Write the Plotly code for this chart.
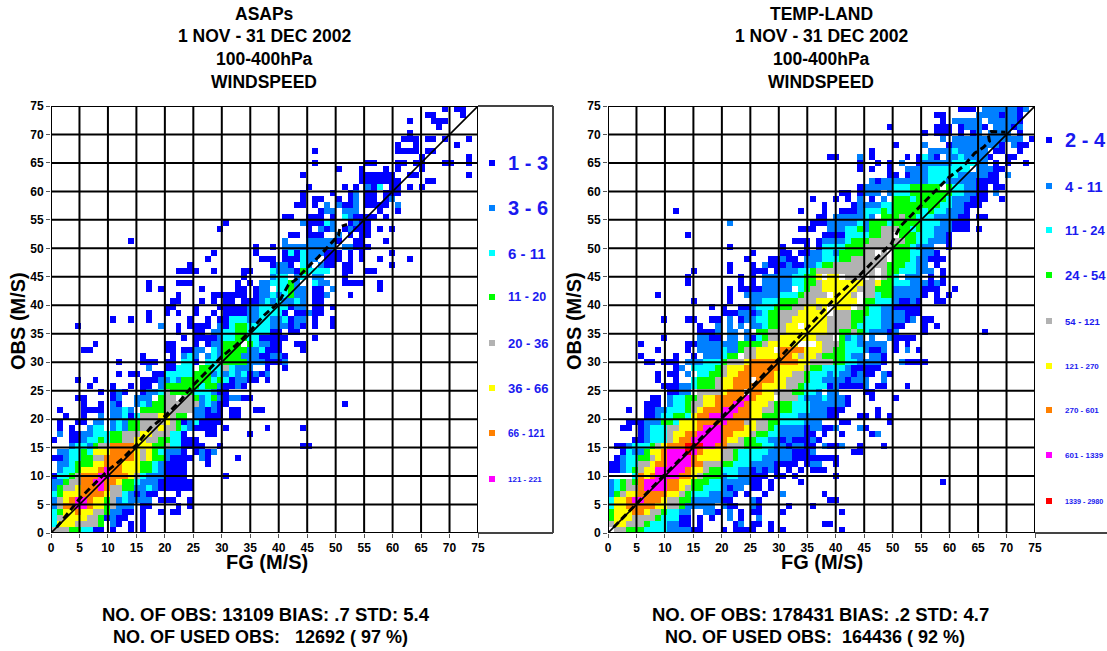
import plotly.graph_objects as go

W, H = 1107, 651
FONT = "Liberation Sans"
BINS_X, BINS_Y = 72, 71
AXIS_MAX = 75
TICKS = list(range(0, 76, 5))

# colour class codes: 1..9, one row string per histogram row, top row first. "col:codes"
ASAP_ROWS = [
"66:1 68:11","63:11 69:1","60:1 64:111","65:1","60:1","59:111 63:11 66:1 70:1","58:1 61:1 68:1",
"44:1 58:1 59:111 63:11","62:1 70:1","44:1 53:11 58:11 61:11 66:11 70:1","48:1 52:1 56:1 58:1 62:1",
"42:1 52:1 53:111 56:11 60:11 70:1","52:1 53:111 56:111 63:11","43:1 49:1 51:1 53:2 54:1 55:3 57:11 60:1 62:1",
"42:1 47:1 50:1 51:2 53:11 56:11 58:1","42:1 44:11 48:1 50:1 51:2 53:11 56:1 57:2",
"41:11 44:1 46:2 48:2 49:11 51:2 53:111 56:1 58:2","45:1 46:22 49:2 50:22 55:1 58:1",
"39:1 40:1 43:111 47:1 49:3 50:2 51:1 52:111 56:1","29:1 42:2 43:111 46:3 47:2 50:1 51:2 52:11",
"28:1 43:1 45:2 46:1 47:2 49:1 50:2 51:1 52:1 53:1 55:1 57:1","40:11 43:111 48:2 50:1 52:1 53:1",
"13:1 39:2 43:222 46:22 48:1 51:1 52:1 56:1","34:1 37:1 39:222222222 49:22 51:111",
"27:1 34:1 39:1 40:3 41:1 42:3 43:222 46:11 48:1 50:1 52:1 57:1",
"26:1 35:11 37:1 39:1 40:11 42:3 43:22 46:11 48:1 50:1 52:1 55:1 60:1",
"23:1 37:1 38:22 40:1 42:3 43:2 45:2 46:11 49:11 57:1",
"21:1111 27:1 32:11 37:3 38:222 41:1 42:4 43:3333 49:11 53:11",
"32:1 37:2 38:33 41:2 42:3 44:22 49:1",
"16:1 21:111 31:1 33:1 35:22 37:3 38:33 40:4 41:2 44:3 45:22 49:111 52:1 55:1",
"16:1 18:1 25:1 31:11 34:1 35:2 36:2 38:33 40:4 41:22 44:11 47:2 55:1",
"21:1 27:111 30:111 34:11 35:2 36:2 37:3 38:2 39:3 40:4 41:22 44:11 46:2 50:1",
"20:11 25:1 27:1 29:11 32:11 34:11 35:2 36:3 37:2 38:3 39:2 40:2 41:3 42:2 44:11",
"19:11 24:1 28:1 29:1111 33:2 34:2 35:33 37:33 39:3 40:1 41:22 44:11 47:1",
"16:1 19:1 21:1 24:1 27:1 29:1111 33:22 35:33 37:3 38:3 39:1 41:11 43:2 44:11",
"10:1 13:1 16:1 23:1 26:1 28:1 29:1 30:3333 33:22 35:33 37:22 39:3 40:1 41:22 44:1 47:1",
"4:1 18:2 21:1 23:111 26:1 28:2 29:1 30:3 31:4 32:4 33:3 34:3 35:33 37:222 40:1 41:2 42:1 44:1 47:1",
"21:1 24:11 27:22 29:3 30:3 31:44 33:3 34:3 35:33 37:11 40:11",
"22:1 24:111 27:1 28:2 29:33 31:44 33:33 35:11 37:111 44:1",
"7:1 19:11 24:1 26:1 27:22 29:444 33:4 34:3 35:22 37:11 41:11",
"5:1 6:1 19:11 22:11 24:22 27:3 28:2 29:444 32:4 33:22 35:3 36:1 37:11 42:1",
"15:1 20:1 22:2 23:3 24:2 26:2 27:3 28:2 29:444 32:2 33:22 35:11 37:22 39:1",
"11:1 15:111 19:11 22:33 24:1 26:33 28:5 29:4444 33:22 35:2 36:1 37:11 39:2",
"16:2 19:11 21:33 23:3 25:444 27:33 29:5 30:3 31:2 32:2 33:2 36:1 39:1",
"11:1 13:1 14:1 17:11 19:33333 24:444 27:2 28:3 29:2 30:3 31:2 32:3 33:1 34:2 35:1 36:2",
"4:1 7:1 15:111 18:2 19:2 20:3 21:2 22:44 24:444 27:3 28:4 29:3 30:1 31:22 33:1 34:1 36:1",
"6:1 10:1 13:1 15:11 18:2 19:4444 23:4 24:4 25:3 26:44 28:2 29:1 30:1 31:2 32:1",
"8:1 10:1 11:2 12:1 15:1 16:2 17:2 18:3 19:5 20:4 21:4 22:4 23:4 24:3 25:3 26:3 27:2 28:1 29:1",
"4:11 10:1 11:2 14:222 18:44 19:55 22:5 23:5 24:4 25:2 26:3 27:4 28:2 29:1 30:22 32:1 33:1",
"5:1 8:1 10:2 11:1 14:2 15:3 16:2 17:4 18:4 19:55 21:5 22:5 23:5 24:5 25:2 26:3 27:2 28:1 29:1 49:1",
"1:1 5:1111 10:2 11:2 12:3 13:2 15:44 17:44 19:55 21:555 24:2 25:2 26:1 27:2 28:1 30:11 34:11 35:1",
"2:1 5:1 8:2 10:2 11:2 12:3 13:1 14:3 15:5 16:5 17:5 18:6 19:6 20:5 21:4 22:4 24:2 25:2 26:1 27:1 28:1 30:11",
"1:1 4:11 7:2 8:2 10:2 11:3 12:2 13:4 14:4 15:5 16:5 17:5 18:5 19:6 20:5 21:4 22:1 23:2 24:3 25:1 26:1 27:1 28:1",
"1:1 3:1 6:2 7:33 10:2 11:3 12:2 13:4 14:4 15:5 16:5 17:5 18:6 19:5 20:5 21:4 22:3 23:2 24:1 25:1 26:1 27:1 29:1 36:1 42:1",
"1:2 3:11 5:2 6:2 7:33 9:3 10:4 11:4 12:5 13:5 14:5 15:6 16:6 17:5 18:5 19:5 20:3 21:3 22:1 26:11 33:1",
"0:1 3:11 5:2 6:3 7:3 8:4 9:3 10:4 11:4 12:5 13:5 14:6 15:6 16:5 17:5 18:4 19:4 20:3 21:3 22:111 24:1",
"3:2 4:3 5:3 6:2 7:4 8:5 9:5 10:7 11:7 12:7 13:7 14:6 15:6 16:6 17:4 18:4 19:5 20:3 21:3 22:1 23:1 24:1 25:1 28:1 42:11",
"1:2 2:2 3:3 4:3 5:4 6:3 7:6 8:6 9:6 10:7 11:7 12:7 13:7 14:6 15:5 16:6 17:4 18:3 19:2 20:2 21:2 22:1 24:1 25:2 26:1 27:2",
"0:11 2:2 3:3 4:3 5:4 6:4 7:5 8:5 9:7 10:7 11:7 12:7 13:7 14:6 15:5 16:6 17:4 18:4 19:2 20:1 21:1 22:1 23:1 25:2 26:1 31:1",
"1:22 3:3 4:4 5:4 6:4 7:6 8:6 9:7 10:7 11:7 12:6 13:6 14:6 15:4 16:4 17:3 18:2 19:1 20:1 21:1 22:1 26:1",
"1:2 2:3 3:3 4:4 5:6 6:6 7:6 8:7 9:8 10:7 11:7 12:6 13:6 14:6 15:4 16:4 17:3 18:2 19:1 20:111",
"0:1 1:3 2:3 3:4 4:5 5:7 6:7 7:7 8:8 9:8 10:7 11:7 12:7 13:6 14:5 15:3 16:2 17:2 18:2 19:1 20:111 29:1",
"0:22 2:4 3:5 4:5 5:7 6:7 7:8 8:8 9:7 10:7 11:6 12:4 13:4 14:3 15:2 16:2 17:2 18:1 19:1 20:1111",
"0:2 1:4 2:5 3:5 4:6 5:7 6:7 7:7 8:8 9:7 10:5 11:5 12:4 13:4 14:2 15:2 16:3 17:2 18:1 19:1 20:1111",
"0:3 1:4 2:6 3:6 4:6 5:7 6:7 7:7 8:7 9:6 10:5 11:5 12:3 13:2 14:1 15:2 16:1 17:1 21:1",
"0:2 1:5 2:6 3:7 4:8 5:8 6:7 7:6 8:6 9:4 10:5 11:2 12:3 13:2 14:2 15:2 16:2 18:1 19:1 20:1 23:1",
"0:2 1:5 2:7 3:7 4:8 5:8 6:7 7:6 8:6 9:4 10:5 11:2 12:2 13:2 15:1 16:1 21:1 23:1",
"0:3 1:4 2:6 3:6 4:7 5:6 6:6 7:5 8:5 9:4 10:2 11:2 12:1 13:1 15:1 18:1 20:11",
"0:3 1:5 2:6 3:6 4:6 5:6 6:5 7:5 8:4 9:1 10:2 11:1 12:1 15:1",
"0:3 1:6 2:6 3:6 4:5 5:5 6:5 7:5 8:4 10:2 11:1 13:1 15:1",
"0:5 1:5 2:5 3:4 4:4 5:3 6:3 7:1 8:1 10:1 13:1 15:1",
]

TEMP_ROWS = [
"59:1 60:11 63:2 64:22 65:2 66:22 68:2 69:1 70:2","55:11 62:22 64:22 65:2 66:1 67:22 69:1",
"56:1 58:22222 64:22 66:2 67:222 69:1","47:1 55:11 57:1 59:1 60:2 61:22 63:1 65:22 67:2 68:1 69:2",
"53:1 55:11 57:1 59:1 61:1 62:2 64:2 65:222 69:1","56:2 58:2222 62:2222 66:22 68:22 71:1",
"48:1 53:2 57:1 58:222 61:2 62:222 65:2 66:1 68:2 69:11","44:1 54:2222 58:3 59:222 62:22 65:1 66:1 69:1",
"37:11 42:2 44:1 50:1 52:1 53:3 54:22 55:1 57:222 59:3 60:2 61:2 62:22 64:1 67:11",
"42:1 45:1 47:1 49:2 52:1 53:222 56:22 58:3 59:333 62:22 65:1 67:1 70:1",
"42:1 44:1 47:1 50:2 51:222 54:3333 58:333 62:222 65:1 66:1",
"47:11 50:1 51:22 53:2 54:3333 58:3 59:222 62:22 64:11 67:2",
"44:22 45:1 46:22 48:2 49:22 51:2 52:2 53:2 54:3 55:333 57:2 58:222 61:2 62:1111",
"42:1 43:2222 46:22 48:3 49:33 51:444 54:44 57:4 58:33 60:2 61:2 62:11 65:1 66:1",
"39:11 42:1 43:222 47:2 48:33 50:3 51:4444 55:44 57:4 58:33 60:2 61:2 62:11 65:2",
"34:1 38:1 40:1 42:2 44:1 46:2 48:4 49:4 50:4 51:3 52:4 53:4 54:4 55:4 56:4 57:3 58:22 60:2 61:1 62:11 63:1 66:1",
"36:1 41:1 42:2 43:22 45:2 46:3 47:3 48:4 49:4 50:4 51:4 52:4 53:4 54:4 55:4 56:3 57:3 58:2 59:2 60:1 61:1 62:1",
"11:1 32:1 36:1 39:111 42:2 43:333 46:4 47:3 48:444 51:4 52:4 53:3 54:4 55:3 56:3 57:2 58:2 59:2 60:1",
"35:11 38:2222 42:22 43:3 44:2 46:4 47:4 48:4 49:5 50:4 51:4 52:3 53:3 54:3 55:2 56:2 57:2 58:2 59:1 60:1 62:11",
"20:2 34:1 35:1 36:1 37:2222 41:2 42:3 43:2 44:444 47:3 48:4 49:4 50:4 51:4 52:4 53:3 54:3 55:3 56:2 57:2 58:1 59:1 60:1",
"32:111 37:22 39:2 40:33 42:4 43:2 44:44 46:55 48:5 49:4 50:4 51:3 52:4 53:3 54:3 55:2 56:2 57:2 58:1 59:1 60:1 62:1",
"13:1 36:1 37:111 40:33 42:3 43:3 44:44 46:5 47:5 49:4 50:4 51:4 52:3 53:3 54:3 55:2 56:2 57:1",
"31:1 32:11 35:1 36:22 38:22 40:3 41:444 44:555 47:5 48:5 49:5 50:4 51:4 52:3 53:3 54:22 56:2 57:1",
"20:1 29:1 33:1 35:1 36:3333 40:44 42:4 43:555 46:5 47:5 48:4 49:4 50:4 51:3 52:2 53:2 54:2 57:1",
"24:1 29:11 32:11 34:2 35:2 36:33 38:2 39:444 42:4 43:55 46:5 48:4 49:444 51:3 52:3 53:22 55:1",
"23:1 27:11 29:2 30:11 33:2 34:2 35:2 36:3 37:33 39:44 41:5 42:5 43:55 45:5 46:5 48:444 51:3 52:22 54:11 56:1",
"20:1 24:1 26:2 27:11 29:1 30:2 31:1 32:1 33:2 34:2 35:3 36:44 38:5 39:5 40:555 43:555 46:5 47:44 49:4 50:33 51:3 52:22 55:1",
"14:1 20:1 24:111 28:1 29:222 32:33 34:4 35:5 36:55 38:555 41:555 44:5 46:5 47:4 48:4 49:33 51:3 52:2 53:22 56:1",
"13:1 22:1 24:1 26:2 27:22 29:22 31:33 33:4 34:4 35:6 37:66 40:555 44:5 46:5 47:4 48:3 50:22 52:2 54:1 56:1",
"13:1 22:1 24:1 26:2 27:22 29:22 31:33 33:4 34:4 35:5 36:666 39:666 42:6 43:5 44:5 45:6 46:4 47:4 48:3 49:33 51:222 53:2 54:1 55:2 56:1",
"20:1 22:1111 26:2 27:22 29:22 32:3 33:4 34:5 35:5 36:666 39:666 42:5 43:55 45:4 46:44 48:2 49:2 50:222 53:1 54:1 55:1 58:1",
"8:1 20:1 23:2 24:222 27:22 29:333 32:4 33:5 34:5 35:5 36:5 38:6 39:66 41:5 43:5 44:5 45:3 46:44 48:2 49:2 50:222 53:1 55:1 57:1",
"14:1 20:1 24:22 26:3 27:3 28:3 29:444 32:5 33:5 34:5 35:6 36:666 38:66 40:66 43:44 45:3 46:33 48:2 49:11 51:2 52:1 55:11",
"17:1 19:1 22:111 24:2 25:3 26:3 27:3 28:4 29:44 31:55 33:66 35:5 36:6 38:666 40:6 42:5 43:4 44:3 45:3 46:2 47:2 48:1 49:111 52:1",
"19:1 20:1 21:1 22:22 24:1 25:2 26:3 27:4 28:4 29:5 30:55 32:6 33:666 35:66 38:555 41:4 42:4 43:4 44:33 46:2 47:222 50:111",
"9:1 13:11 17:11 20:2 22:1 23:22 25:3 26:3 27:4 28:4 29:5 30:5 31:6666 35:66 37:5 38:555 41:4 42:4 43:3 44:33 46:2 47:222 50:1 51:2 53:11",
"15:1 18:2 20:2 22:2 24:2 25:2 26:3 27:4 28:4 29:5 30:66 33:666 35:6 36:6 37:5 38:555 41:4 42:3 43:33 45:3 46:2 47:2 48:1 49:1 53:1 55:1",
"15:111 18:2 20:2 21:2 23:2 25:44 27:5 28:5 29:5 30:6 31:66 33:66 35:66 37:5 38:5 39:4 40:4 41:5 42:4 43:3 44:222 47:1 48:2 53:1 63:1",
"9:1 15:2 16:2 17:11 20:2 21:2 23:2 24:1 25:3 26:4 27:5 28:5 29:6 30:666 33:66 35:55 37:5 39:4 40:2 41:3 42:2 44:2 47:2 48:1 49:111 51:1",
"5:1 13:11 15:2222 19:2 20:22 22:4 23:4 24:4 25:4 26:5 27:6 28:6 29:66 31:6 35:6 36:55 38:5 39:4 40:33 41:3 42:2 43:222 46:2 48:1 50:1",
"8:1 13:1 15:22 17:22 19:3 20:2 21:2 22:4 23:5 24:5 25:666 29:77 31:77 33:6 34:6 35:6 36:55 38:4 39:4 40:33 42:3 43:2 44:1 45:1 46:2 48:1 50:2 52:1",
"5:1 11:1 14:1 16:222 19:3 20:44 23:5 24:5 25:666 28:6 29:77 31:6 32:5 33:6 34:6 35:5 36:44 38:4 39:4 40:3 41:2 42:2 44:22 46:1",
"6:11 9:1 10:11 13:2 14:22 16:3 17:33 19:4 20:55 22:5 23:6 24:7 25:777 28:7 29:77 31:7 32:6 33:6 34:5 35:55 37:5 38:4 39:4 40:33 42:2 43:222 46:1 49:2 50:111 53:1",
"11:1 12:2 14:3 15:33 17:3 18:4 19:5 20:6 21:6 22:6 23:7 24:777 27:7 28:7 29:6 30:6 31:6 32:6 33:5 34:4 35:4 36:3 37:3 38:3 39:3 40:2 41:1 42:1 43:1 44:11",
"8:1 10:1 11:1 13:2 15:33 17:4 18:4 19:5 20:6 21:6 22:777 25:777 28:6 29:6 30:6 31:5 32:5 33:4 34:3 35:3 36:3 37:2 38:3 39:2 40:2 41:1 42:2 43:1 44:1 46:2 47:1",
"8:1 11:1 14:3 15:4 16:444 18:5 19:6 20:6 21:777 25:777 28:6 29:6 30:5 31:5 32:5 33:4 34:3 35:3 36:2 37:22 39:2 40:1 41:22 43:2 46:2",
"9:11 11:1 12:2 13:2 14:3 15:4 16:44 18:5 19:6 20:6 21:777 24:7 25:7 26:6 27:6 28:6 29:6 30:5 31:5 32:4 33:3 34:3 35:3 36:3 37:1 38:2 39:1 40:11 42:1 43:2 45:1 46:1 50:1",
"10:1 11:1 12:2 13:2 15:5 16:5 17:5 18:5 19:6 20:7 21:7 22:7 24:7 25:7 26:6 27:6 28:5 29:5 30:5 31:4 32:4 33:3 34:3 35:2 37:2 38:2 43:11",
"7:1 8:1 10:2 11:3 12:3 13:4 14:4 15:5 16:6 17:6 18:7 19:7 20:7 21:7 22:7 23:8 24:7 25:6 26:6 27:6 29:5 30:5 31:5 32:3 33:2 34:2 35:2 36:3 37:2 38:222 40:1 44:1 48:1",
"6:11 8:1 10:2 11:3 12:3 13:4 14:5 15:5 16:6 17:6 18:7 19:7 20:7 21:8 22:8 23:7 24:6 25:6 26:6 27:5 28:4 29:4 30:4 31:3 32:3 33:3 34:2 35:22 37:2 38:2 39:2 40:1",
"3:1 6:1 7:1 8:2 9:2 10:3 11:3 12:3 13:4 14:5 15:6 16:7 17:7 18:7 19:8 20:8 21:8 22:7 23:7 24:6 25:6 26:5 27:5 28:4 29:4 30:4 31:3 32:3 33:3 34:2 35:22 37:111 45:1",
"6:1 7:1 8:2 9:3 10:3 11:4 12:4 13:3 14:6 15:7 16:7 17:8 18:8 19:8 20:8 21:7 22:7 23:7 24:6 25:6 26:4 27:4 28:4 29:3 30:3 31:3 32:2 33:2 34:2 35:22 37:11 42:11 45:1 47:1",
"3:111 6:2 7:2 8:2 9:4 10:4 11:3 12:6 13:6 14:6 15:7 16:7 17:7 18:7 19:8 20:7 21:7 22:7 23:5 24:6 25:5 26:5 27:4 28:4 29:3 30:3 31:3 32:3 33:2 34:2 35:2 39:11 47:1",
"2:11 5:1 6:2 7:3 8:3 9:3 10:5 11:5 12:6 13:6 14:6 15:7 16:8 17:8 18:8 19:7 20:7 21:7 22:7 23:6 24:6 25:5 26:5 27:4 28:3 29:2 30:2 31:2 32:2 33:1 34:2 35:2 36:11 38:2 42:2 43:1",
"5:1 6:2 7:33 9:3 10:5 11:6 12:6 13:7 14:7 15:8 16:8 17:8 18:8 19:7 20:7 21:6 22:6 23:6 24:5 25:4 26:4 27:3 28:3 29:2 30:2 31:2 32:2 33:1 34:1 36:1 39:1 44:1 45:2",
"4:11 6:2 7:33 9:3 10:5 11:6 12:7 13:7 14:8 15:8 16:8 17:8 18:8 19:7 20:6 21:6 22:5 23:4 24:4 25:3 26:3 27:2 28:2 29:1 30:2 31:1 32:1 33:1 34:2 35:1",
"1:11 3:2 4:3 5:33 7:4 8:5 9:6 10:7 11:7 12:7 13:9 14:9 15:9 16:8 17:8 18:7 19:7 20:5 21:5 22:5 23:4 24:4 25:4 26:3 27:3 28:2 29:2 30:1 31:2 32:2 33:1 34:1 36:2 37:1 38:11 39:2 42:1 46:1",
"2:1 3:3 4:2 5:2 6:4 7:6 8:6 9:7 10:8 11:8 12:8 13:9 14:8 15:7 16:6 17:6 18:6 19:5 20:5 21:4 22:3 23:3 24:3 25:3 26:3 27:2 28:2 29:2 30:2 31:1 32:1 33:1 34:2 41:11",
"1:1 2:2 3:3 4:3 5:4 6:4 7:5 8:6 9:7 10:8 11:8 12:8 13:8 14:7 15:6 16:6 17:6 18:6 19:5 20:5 21:4 22:3 23:3 24:3 25:3 26:2 27:2 28:2 29:2 30:2 31:1 32:1 33:1 34:1 35:1 36:11 38:1",
"0:1 1:1 2:2 3:3 4:3 5:5 6:5 7:6 8:7 9:7 10:8 11:8 12:8 13:8 14:7 15:7 16:5 17:5 18:5 19:4 20:4 21:3 22:3 23:3 24:2 25:2 26:2 27:2 28:1 29:1 30:1 31:1 33:1 34:2 35:2 38:1",
"0:1 1:1 2:2 3:3 4:4 5:5 6:6 7:6 8:8 9:8 10:8 11:8 12:8 13:7 14:6 15:6 16:5 17:4 18:4 19:3 20:3 21:3 22:2 23:2 24:1 25:2 26:1 27:2 28:1 30:1 32:1 34:1 35:11",
"4:3 5:7 6:6 7:7 8:8 9:8 10:8 11:8 12:7 13:7 14:6 15:5 16:4 17:4 18:4 19:2 20:3 21:3 22:2 23:2 24:1 25:1 26:1 28:1 29:1 31:1 38:1",
"0:2 1:3 2:4 3:5 4:4 5:7 6:8 7:8 8:8 9:8 10:7 11:7 12:6 13:6 14:4 15:4 16:4 17:3 18:3 19:2 20:2 21:2 22:2 23:2 24:1 25:1 27:1 32:1 56:1",
"0:2 1:3 2:4 3:5 4:5 5:7 6:8 7:8 8:8 9:8 10:7 11:7 12:6 13:5 14:4 15:4 16:3 17:3 18:3 19:2 20:1 21:2 22:2 24:1 25:1 27:1",
"0:2 1:4 2:5 3:6 4:6 5:7 6:7 7:7 8:7 9:7 10:6 11:6 12:5 13:4 14:3 15:3 16:3 17:2 18:2 19:2 20:2 21:1 23:1 26:1 29:2 36:1",
"0:3 1:6 2:6 3:7 4:8 5:8 6:7 7:7 8:7 9:6 10:5 11:5 12:4 13:4 14:2 15:2222 19:1 20:1 24:2 25:1 37:11",
"0:3 1:6 2:6 3:7 4:7 5:7 6:7 7:7 8:6 9:6 10:5 11:5 12:4 13:2 14:2222 19:2 20:1 21:1 24:2 25:1 30:1 34:1",
"0:4 1:6 2:6 3:6 4:7 5:7 6:6 7:5 8:5 9:4 10:3 11:3 12:2 13:2 16:22 18:1 20:2 22:1 24:11 29:1 39:1",
"0:4 1:6 2:6 3:6 4:5 5:5 6:5 7:5 8:4 9:3 10:3 11:3 12:1 13:1 15:1 17:1 20:2 22:1 25:2",
"0:5 1:6 2:6 3:5 4:5 5:5 6:4 7:3 8:3 9:3 10:2 11:2 12:1 13:1 15:1 21:1 22:2 24:11 27:1 36:11",
"1:5 2:5 3:4 4:4 5:4 6:3 7:3 8:3 9:3 10:2 11:2 12:2 13:2 14:1 15:1 19:1 21:11 23:1 24:1 27:1 29:1 39:1",
]

CLASS_COLORS = ["#0000FF", "#0080FF", "#00FFFF", "#00FF00", "#B2B2B2", "#FFFF00", "#FF8000", "#FF00FF", "#FF0000"]

ASAP_MEAN_X = [1, 3, 5, 7.5, 10, 12.5, 15, 17.5, 20, 22.5, 25, 27.5, 30, 32.5, 35, 37.5, 40, 41.7, 43, 45.5, 47, 50.5, 50.8, 52]
ASAP_MEAN_Y = [1, 3.5, 6, 8.5, 11, 13, 15.5, 18.5, 20.5, 23, 26, 28.5, 31, 33, 35.5, 38.3, 40.5, 43.6, 44.5, 47.1, 48.5, 52.3, 53.8, 54.2]
TEMP_MEAN_X = [1, 5, 10, 15, 20, 25, 30, 35, 40.2, 44.3, 49.8, 51.3, 54.2, 57.7, 59.8, 62.4, 64.4, 65.9, 67, 66.8, 67.3, 69.8]
TEMP_MEAN_Y = [1, 5.2, 10.3, 15.3, 20.3, 25.4, 30.6, 36, 41.6, 45.4, 50.9, 53.8, 56.8, 60.3, 62.4, 64.4, 66.7, 67.7, 68.8, 70, 70.5, 70.4]

ASAP_TITLE = ["ASAPs", "1 NOV - 31 DEC 2002", "100-400hPa", "WINDSPEED"]
TEMP_TITLE = ["TEMP-LAND", "1 NOV - 31 DEC 2002", "100-400hPa", "WINDSPEED"]
ASAP_FOOT = ["NO. OF OBS: 13109 BIAS: .7 STD: 5.4", "NO. OF USED OBS:\u00a0\u00a0 12692 ( 97 %)"]
TEMP_FOOT = ["NO. OF OBS: 178431 BIAS: .2 STD: 4.7", "NO. OF USED OBS:\u00a0 164436 ( 92 %)"]
ASAP_LEGEND = ["1 - 3", "3 - 6", "6 - 11", "11 - 20", "20 - 36", "36 - 66", "66 - 121", "121 - 221"]
TEMP_LEGEND = ["2 - 4", "4 - 11", "11 - 24", "24 - 54", "54 - 121", "121 - 270", "270 - 601", "601 - 1339", "1339 - 2980"]

# layout constants (pixels)
ASAP_LEG_Y = [163, 208, 253, 297, 343, 388, 433, 479]
ASAP_LEG_SIZE = [20, 20, 15, 12.5, 13, 13, 10, 8]
TEMP_LEG_Y = [140, 186, 230, 275, 321, 366, 410, 455, 501]
TEMP_LEG_SIZE = [20, 15, 13, 13, 9.5, 8, 8, 8, 7.2]
PLOT_TOP, PLOT_BOTTOM = 106, 533
PANEL = [dict(left=51, right=478, cx=264, foot=(266, 260), obs_x=18, fg_x=267, sq_x=492, txt_x=506),
         dict(left=608, right=1035, cx=821, foot=(820, 815), obs_x=574, fg_x=822, sq_x=1049, txt_x=1063)]


def parse(rows):
    grid = []
    for row in rows:
        cells = [None] * BINS_X
        for part in row.split():
            col, codes = part.split(":")
            for k, ch in enumerate(codes):
                cells[int(col) + k] = int(ch)
        grid.append(cells)
    return grid[::-1]


n = len(CLASS_COLORS)
scale = []
for i, c in enumerate(CLASS_COLORS):
    scale += [[i / n, c], [(i + 1) / n, c]]

px = lambda x: x / W
py = lambda y: 1 - y / H

fig = go.Figure()
for idx, (rows, mx, my) in enumerate([(ASAP_ROWS, ASAP_MEAN_X, ASAP_MEAN_Y), (TEMP_ROWS, TEMP_MEAN_X, TEMP_MEAN_Y)]):
    xa = "x" if idx == 0 else "x2"
    ya = "y" if idx == 0 else "y2"
    dx, dy = AXIS_MAX / BINS_X, AXIS_MAX / BINS_Y
    fig.add_trace(go.Heatmap(z=parse(rows), x0=dx / 2, dx=dx, y0=dy / 2, dy=dy, xaxis=xa, yaxis=ya,
                             colorscale=scale, zmin=0.5, zmax=n + 0.5, showscale=False, hoverinfo="skip"))
    fig.add_trace(go.Scatter(x=[0, AXIS_MAX], y=[0, AXIS_MAX], xaxis=xa, yaxis=ya, mode="lines",
                             line=dict(color="black", width=1.6), hoverinfo="skip"))
    fig.add_trace(go.Scatter(x=mx, y=my, xaxis=xa, yaxis=ya, mode="lines",
                             line=dict(color="black", width=3, dash="7px,4px"), hoverinfo="skip"))

axis = dict(range=[0, AXIS_MAX], tickvals=TICKS, ticks="outside", ticklen=4, tickcolor="#555", tickwidth=1,
            showgrid=False, zeroline=False, showline=False,
            tickfont=dict(family=FONT, size=12, color="black", weight=700))
shapes, annots = [], []


def text(x, y, s, size, color="black", angle=0, anchor="center"):
    annots.append(dict(x=px(x), y=py(y), xref="paper", yref="paper", text=s, showarrow=False, textangle=angle,
                       xanchor=anchor, yanchor="middle",
                       font=dict(family=FONT, size=size, color=color, weight=700)))


for idx, p in enumerate(PANEL):
    s = "" if idx == 0 else "2"
    fig.update_layout({"xaxis" + s: dict(axis, domain=[px(p["left"]), px(p["right"])], anchor="y" + s),
                       "yaxis" + s: dict(axis, domain=[py(PLOT_BOTTOM), py(PLOT_TOP)], anchor="x" + s)})
    for t in TICKS:
        shapes.append(dict(type="line", xref="x" + s, yref="y" + s, x0=t, x1=t, y0=0, y1=AXIS_MAX,
                           line=dict(color="black", width=2)))
        shapes.append(dict(type="line", xref="x" + s, yref="y" + s, x0=0, x1=AXIS_MAX, y0=t, y1=t,
                           line=dict(color="black", width=2)))
    title = ASAP_TITLE if idx == 0 else TEMP_TITLE
    for line, y in zip(title, [14, 36, 59, 82]):
        text(p["cx"], y, line, 17.5)
    foot = ASAP_FOOT if idx == 0 else TEMP_FOOT
    text(p["foot"][0], 614, foot[0], 18.5)
    text(p["foot"][1], 637, foot[1], 18)
    text(p["fg_x"], 562, "FG (M/S)", 20)
    text(p["obs_x"], 321, "OBS (M/S)", 20, angle=-90)
    labels = ASAP_LEGEND if idx == 0 else TEMP_LEGEND
    ys = ASAP_LEG_Y if idx == 0 else TEMP_LEG_Y
    sizes = ASAP_LEG_SIZE if idx == 0 else TEMP_LEG_SIZE
    for i, (lab, y, sz) in enumerate(zip(labels, ys, sizes)):
        shapes.append(dict(type="rect", xref="paper", yref="paper", x0=px(p["sq_x"] - 3), x1=px(p["sq_x"] + 3),
                           y0=py(y + 3), y1=py(y - 3), fillcolor=CLASS_COLORS[i], line_width=0))
        text(p["txt_x"], y, lab, sz, color="#1a1af0", anchor="left")


def frame(x0, y0, x1, y1, color="#444", width=2):
    shapes.append(dict(type="line", xref="paper", yref="paper", x0=px(x0), x1=px(x1), y0=py(y0), y1=py(y1),
                       line=dict(color=color, width=width)))


frame(478, PLOT_TOP, 553, PLOT_TOP)
frame(553, PLOT_TOP, 553, PLOT_BOTTOM)
frame(478, PLOT_BOTTOM, 553, PLOT_BOTTOM)
frame(1035, PLOT_BOTTOM, 1107, PLOT_BOTTOM)

fig.update_layout(width=W, height=H, margin=dict(l=0, r=0, t=0, b=0, autoexpand=False),
                  plot_bgcolor="white", paper_bgcolor="white",
                  showlegend=False, shapes=shapes, annotations=annots)
fig.write_html("out.html", config={"displayModeBar": False},
               post_script="document.body.style.margin='0';document.body.style.overflow='hidden';")
